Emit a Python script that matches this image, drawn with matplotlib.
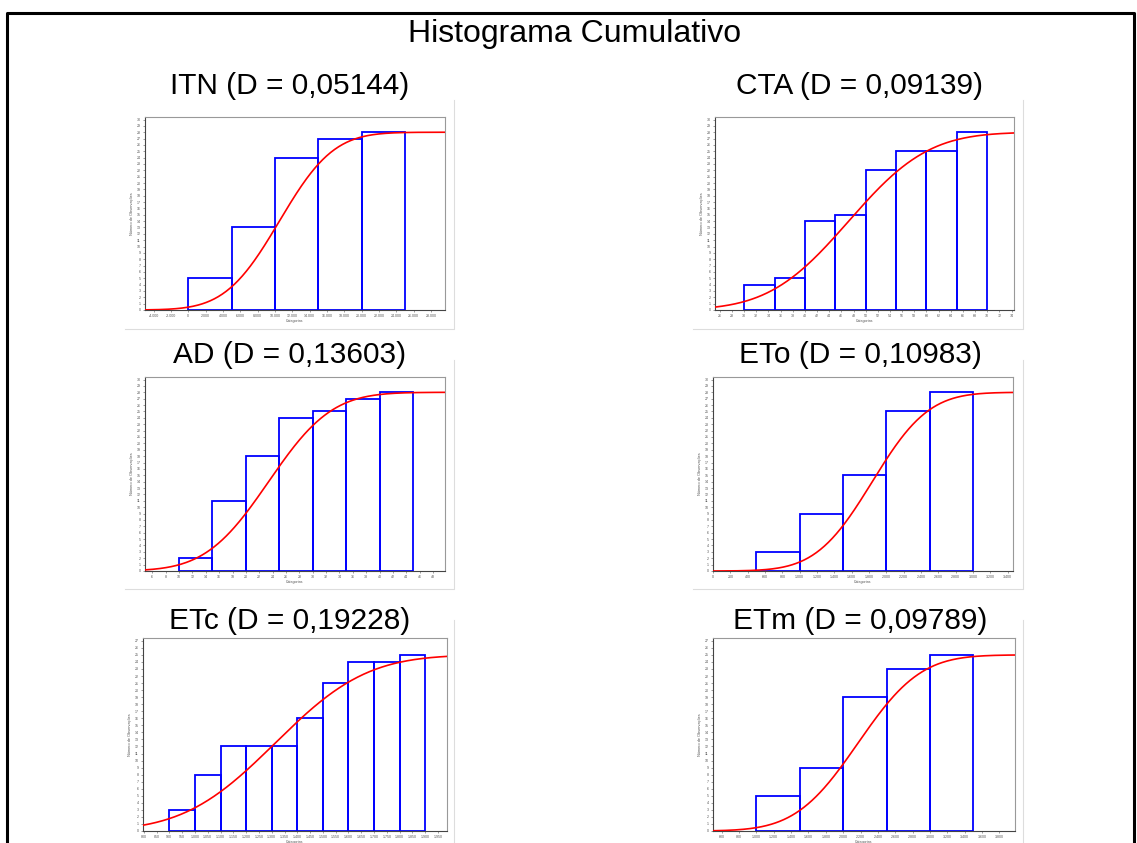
import math
import numpy as np
import matplotlib
matplotlib.use("Agg")
import matplotlib.pyplot as plt
from matplotlib.ticker import FuncFormatter, MultipleLocator

plt.rcParams['font.family'] = ['Liberation Sans', 'DejaVu Sans']

W, H = 1137, 843

# dados: limites das classes, frequencias acumuladas, ajuste normal (media, desvio)
titles = ["ITN (D = 0,05144)", "CTA (D = 0,09139)", "AD (D = 0,13603)",
          "ETo (D = 0,10983)", "ETc (D = 0,19228)", "ETm (D = 0,09789)"]

itn_edges = [0, 5000, 10000, 15000, 20000, 25000]
itn_counts = [5, 13, 24, 27, 28]
cta_edges = [30, 35, 40, 45, 50, 55, 60, 65, 70]
cta_counts = [4, 5, 14, 15, 22, 25, 25, 28]
ad_edges = [10, 15, 20, 25, 30, 35, 40, 45]
ad_counts = [2, 11, 18, 24, 25, 27, 28]
eto_edges = [500, 1000, 1500, 2000, 2500, 3000]
eto_counts = [3, 9, 15, 25, 28]
etc_edges = [900, 1000, 1100, 1200, 1300, 1400, 1500, 1600, 1700, 1800, 1900]
etc_counts = [3, 8, 12, 12, 12, 16, 21, 24, 24, 25]
etm_edges = [1000, 1500, 2000, 2500, 3000, 3500]
etm_counts = [5, 9, 19, 23, 25]

fit_mean = [10500, 47.2, 23.4, 1837, 1314, 2172]
fit_sd = [4900, 10.3, 7.4, 510, 281, 565]

x_limits = [(-5000, 29600), (25.2, 74.4), (4.9, 49.8), (0, 3460), (797, 1985), (500, 3980)]
x_steps = [2000, 2, 2, 200, 50, 200]
y_tops = [30, 30, 30, 30, 27, 27]

edges_all = [itn_edges, cta_edges, ad_edges, eto_edges, etc_edges, etm_edges]
counts_all = [itn_counts, cta_counts, ad_counts, eto_counts, etc_counts, etm_counts]

# caixas dos eixos em pixels (esquerda, topo, direita, base)
boxes = [(145, 117, 445, 310), (715, 117, 1014, 310),
         (145, 377, 445, 571), (713, 377, 1013, 571),
         (143, 638, 447, 831), (713, 638, 1015, 831)]
img_boxes = [(125, 100, 454, 329), (693, 100, 1023, 329),
             (125, 360, 454, 589), (693, 360, 1023, 589),
             (125, 620, 454, 849), (693, 620, 1023, 849)]
title_pos = [(290, 86), (860, 86), (290, 355), (860, 355), (290, 621), (860, 621)]

fig = plt.figure(figsize=(W / 100, H / 100), dpi=100)

# moldura
frame = fig.add_axes([0, 0, 1, 1])
frame.set_xlim(0, W)
frame.set_ylim(H, 0)
frame.axis('off')
frame.plot([7, 7, 1134, 1134], [H + 5, 13, 13, H + 5], color='black', lw=2.2)
for (l, t, r, b) in img_boxes:
    frame.plot([l, r, r], [b, b, t], color='#dddddd', lw=0.8)

fig.text(575 / W, 1 - 34 / H, "Histograma Cumulativo", ha='center', va='center', fontsize=23)


def fmt_pt(v, pos):
    if abs(v - round(v)) < 1e-9:
        return f"{v:,.0f}".replace(",", ".")
    return f"{v:g}"


for i in range(6):
    l, t, r, b = boxes[i]
    ax = fig.add_axes([l / W, 1 - b / H, (r - l) / W, (b - t) / H])
    tx, ty = title_pos[i]
    fig.text(tx / W, 1 - ty / H, titles[i], ha='center', va='center', fontsize=21.5)

    edges = np.array(edges_all[i], dtype=float)
    counts = np.array(counts_all[i])
    ax.bar(edges[:-1], counts, width=np.diff(edges), align='edge', fill=False,
           edgecolor='#0000ff', lw=1.3, zorder=2)

    x0, x1 = x_limits[i]
    xs = np.linspace(x0, x1, 300)
    z = (xs - fit_mean[i]) / fit_sd[i]
    cdf = np.array([0.5 * (1 + math.erf(v / math.sqrt(2))) for v in z])
    ax.plot(xs, cdf * counts[-1], color='#ff0000', lw=1.2, zorder=3)

    ax.set_xlim(x0, x1)
    ax.set_ylim(0, y_tops[i] + 0.4)
    ax.xaxis.set_major_locator(MultipleLocator(x_steps[i]))
    ax.xaxis.set_minor_locator(MultipleLocator(x_steps[i] / 4))
    ax.yaxis.set_major_locator(MultipleLocator(1))
    ax.xaxis.set_major_formatter(FuncFormatter(fmt_pt))
    ax.tick_params(labelsize=2.6, length=1.5, width=0.4, pad=1.5, colors='#555555')
    ax.tick_params(which='minor', length=1, width=0.3, colors='#555555')
    for s in ax.spines.values():
        s.set_color('#999999')
        s.set_linewidth(0.8)
    ax.spines['left'].set_color('#444444')
    ax.spines['bottom'].set_color('#444444')
    ax.set_ylabel("Número de Observações", fontsize=2.8, labelpad=2, color='#555555')
    ax.set_xlabel("Categorias", fontsize=2.6, labelpad=0.8, color='#555555')

fig.savefig("out.png", dpi=100)
